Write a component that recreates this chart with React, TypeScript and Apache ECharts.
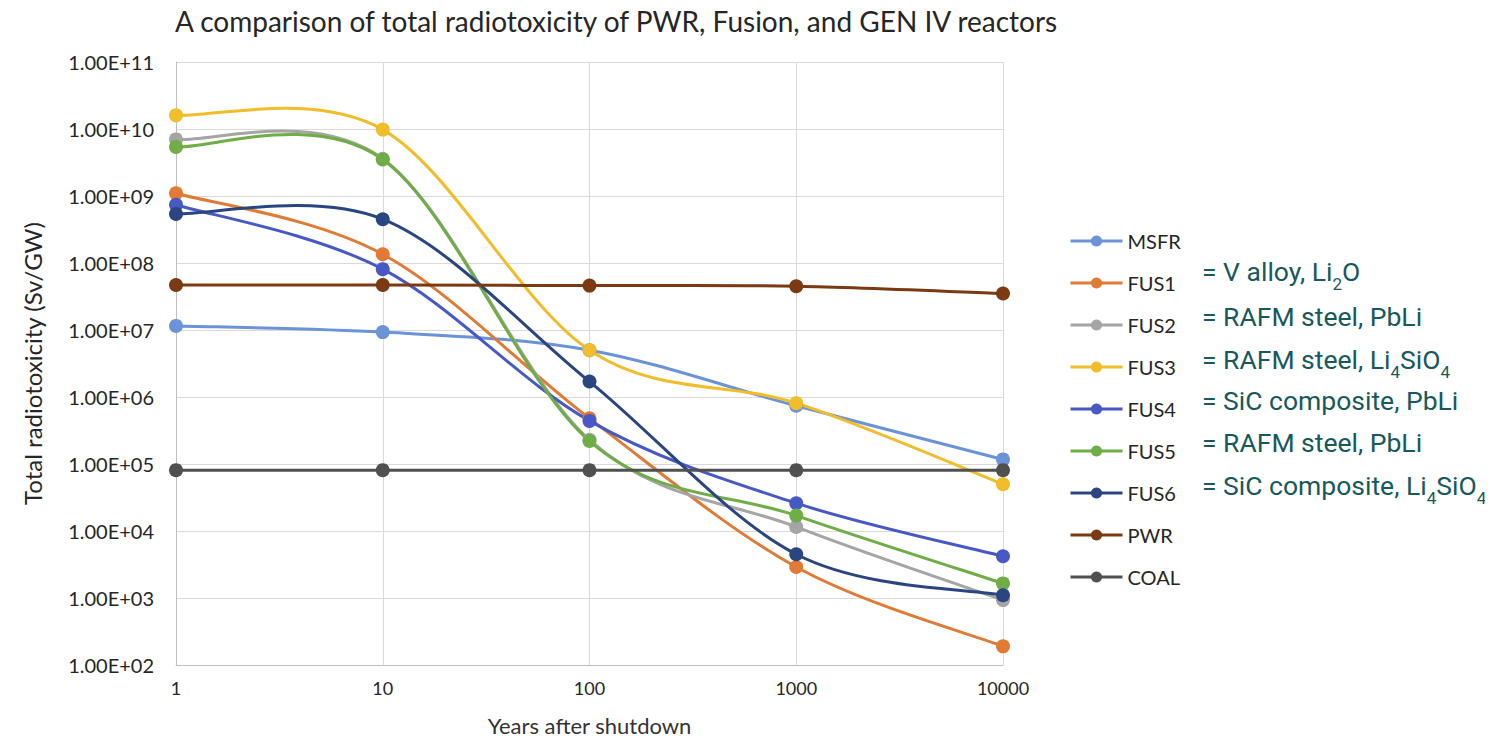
import React, { useEffect, useRef } from "react";
import * as echarts from "echarts";

const years = ["1", "10", "100", "1000", "10000"];
const seriesNames = ["MSFR", "FUS1", "FUS2", "FUS3", "FUS4", "FUS5", "FUS6", "PWR", "COAL"];
const msfr = [1.15e7, 9.3e6, 5.0e6, 7.4e5, 1.17e5];
const fus1 = [1.1e9, 1.35e8, 4.8e5, 2.9e3, 1.9e2];
const fus2 = [7.0e9, 3.6e9, 2.3e5, 1.15e4, 9.3e2];
const fus3 = [1.6e10, 9.8e9, 5.0e6, 8.1e5, 5.0e4];
const fus4 = [7.4e8, 8.1e7, 4.4e5, 2.6e4, 4.2e3];
const fus5 = [5.4e9, 3.5e9, 2.2e5, 1.7e4, 1.65e3];
const fus6 = [5.4e8, 4.5e8, 1.7e6, 4.5e3, 1.1e3];
const pwr = [4.7e7, 4.7e7, 4.6e7, 4.5e7, 3.5e7];
const coal = [8.1e4, 8.1e4, 8.1e4, 8.1e4, 8.1e4];
const allValues = [msfr, fus1, fus2, fus3, fus4, fus5, fus6, pwr, coal];
const colors = ["#6a93d8", "#e07a35", "#a5a5a5", "#f2bd2a", "#4659c4", "#6fad46", "#2a4680", "#7b3a12", "#505050"];

const notes = [
  ["= V alloy, Li", "2", "O"],
  ["= RAFM steel, PbLi"],
  ["= RAFM steel, Li", "4", "SiO", "4"],
  ["= SiC composite, PbLi"],
  ["= RAFM steel, PbLi"],
  ["= SiC composite, Li", "4", "SiO", "4"],
];
const noteY = [272, 317, 360, 401, 443, 486];

export default function App() {
  const ref = useRef<HTMLDivElement>(null);
  useEffect(() => {
    const chart = echarts.init(ref.current!, null, { renderer: "svg" });
    const fmt = (v: number) => {
      const e = Math.round(Math.log10(v));
      return "1.00E+" + String(e).padStart(2, "0");
    };
    const noteGraphics = notes.map((parts, i) => ({
      type: "text",
      left: 1202,
      top: noteY[i] - 14,
      style: {
        text: parts.map((p, j) => (j % 2 === 1 ? `{s|${p}}` : `{n|${p}}`)).join(""),
        rich: {
          n: { fontFamily: "Roboto", fontSize: 26.5, fill: "#17595c", lineHeight: 34, verticalAlign: "bottom" },
          s: { fontFamily: "Roboto", fontSize: 17, fill: "#17595c", lineHeight: 34, verticalAlign: "bottom", padding: [0, 0, -7, 0] },
        },
      },
    }));

    const curveSeries = allValues.map((vals, s) => ({
      name: "_curve" + s,
      type: "custom",
      z: 2,
      silent: true,
      data: vals.slice(0, vals.length - 1).map((v, i) => [i, v]),
      renderItem: (params: any, api: any) => {
        const i = api.value(0) as number;
        const n = vals.length;
        const pt = (k: number) => {
          const kk = Math.max(0, Math.min(n - 1, k));
          return api.coord([kk, vals[kk]]);
        };
        const p0 = pt(i - 1);
        const p1 = pt(i);
        const p2 = pt(i + 1);
        const p3 = pt(i + 2);
        return {
          type: "bezierCurve",
          shape: {
            x1: p1[0],
            y1: p1[1],
            cpx1: p1[0] + (p2[0] - p0[0]) / 6,
            cpy1: p1[1] + (p2[1] - p0[1]) / 6,
            cpx2: p2[0] - (p3[0] - p1[0]) / 6,
            cpy2: p2[1] - (p3[1] - p1[1]) / 6,
            x2: p2[0],
            y2: p2[1],
          },
          style: { stroke: colors[s], lineWidth: 3, fill: "none" },
        };
      },
    }));

    chart.setOption({
      animation: false,
      backgroundColor: "#ffffff",
      title: {
        text: "A comparison of total radiotoxicity of PWR, Fusion, and GEN IV reactors",
        left: 170,
        top: 2,
        textStyle: { fontFamily: "Lato", fontSize: 28, fontWeight: "normal", color: "#262626" },
      },
      grid: { left: 176, right: 490, top: 62, bottom: 78, outerBoundsMode: "none", containLabel: false },
      legend: {
        orient: "vertical",
        left: 1064,
        top: 226,
        itemWidth: 52,
        itemHeight: 14,
        itemGap: 22,
        data: seriesNames,
        lineStyle: { width: 3, opacity: 1 },
        textStyle: { fontFamily: "Lato", fontSize: 20, color: "#262626" },
      },
      xAxis: {
        type: "category",
        data: years,
        boundaryGap: false,
        name: "Years after shutdown",
        nameLocation: "middle",
        nameGap: 49,
        nameTextStyle: { fontFamily: "Lato", fontSize: 22, color: "#333" },
        axisLine: { lineStyle: { color: "#bfbfbf" } },
        axisTick: { show: false },
        axisLabel: { fontFamily: "Lato", fontSize: 18, color: "#262626", margin: 14 },
        splitLine: { show: true, lineStyle: { color: "#dadada" } },
      },
      yAxis: {
        type: "log",
        logBase: 10,
        min: 100,
        max: 1e11,
        name: "Total radiotoxicity (Sv/GW)",
        nameLocation: "middle",
        nameGap: 132,
        nameTextStyle: { fontFamily: "Lato", fontSize: 24, color: "#262626" },
        axisLine: { show: true, lineStyle: { color: "#bfbfbf" } },
        axisTick: { show: false },
        axisLabel: { fontFamily: "Lato", fontSize: 20, color: "#262626", margin: 22, formatter: fmt },
        splitLine: { show: true, lineStyle: { color: "#dadada" } },
      },
      series: [
        ...seriesNames.map((name, i) => ({
          name,
          type: "line",
          z: 3,
          data: allValues[i],
          symbol: "circle",
          symbolSize: 14,
          lineStyle: { width: 3, color: colors[i], opacity: 0 },
          itemStyle: { color: colors[i] },
        })),
        ...curveSeries,
      ],
      graphic: noteGraphics,
    });
    return () => chart.dispose();
  }, []);
  return <div ref={ref} style={{ width: 1493, height: 743, margin: -8 }} />;
}
